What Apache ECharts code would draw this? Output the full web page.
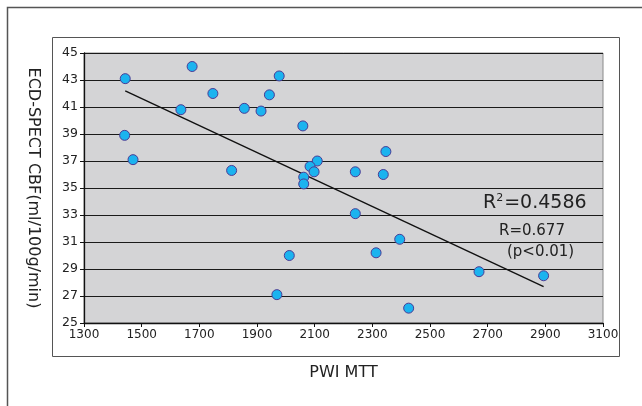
<!DOCTYPE html>
<html>
<head>
<meta charset="utf-8">
<script src="https://cdn.jsdelivr.net/npm/echarts@6/dist/echarts.min.js"></script>
<style>
html,body{margin:0;padding:0;background:#fff;}
#c{width:642px;height:406px;}
</style>
</head>
<body>
<div id="c"></div>
<script>
// Data
const pwiMTT = [1443, 1675, 1977, 1747, 1943, 1636, 1856, 1914, 2059, 1441, 1470, 1812, 2109, 2084, 2098, 2062, 2062, 2241, 2347, 2338, 2241, 2012, 1969, 2313, 2395, 2670, 2894, 2426];
const cbf    = [43.1, 44.0, 43.3, 42.0, 41.9, 40.8, 40.9, 40.7, 39.6, 38.9, 37.1, 36.3, 37.0, 36.6, 36.2, 35.8, 35.3, 36.2, 37.7, 36.0, 33.1, 30.0, 27.1, 30.2, 31.2, 28.8, 28.5, 26.1];
const trendX = [1443, 2894];
const trendY = [42.2, 27.7];
const xTicks = [1300, 1500, 1700, 1900, 2100, 2300, 2500, 2700, 2900, 3100];
const yTicks = [25, 27, 29, 31, 33, 35, 37, 39, 41, 43, 45];
const xName = 'PWI MTT';
const yName = 'ECD-SPECT CBF(ml/100g/min)';
const annR2 = '0.4586';
const annR = 'R=0.677';
const annP = '(p<0.01)';

const points = pwiMTT.map((x, i) => [x, cbf[i]]);
const trend = trendX.map((x, i) => [x, trendY[i]]);

const chart = echarts.init(document.getElementById('c'), null, {renderer: 'canvas'});
const font = 'DejaVu Sans';
chart.setOption({
  animation: false,
  backgroundColor: '#fff',
  grid: {left: 84, top: 53, width: 519, height: 270, show: true, backgroundColor: '#d4d4d6', borderColor: '#8a8a8a', borderWidth: 1},
  xAxis: {
    type: 'value', min: xTicks[0], max: xTicks[xTicks.length - 1], interval: 200,
    name: xName, nameLocation: 'middle', nameGap: 42,
    nameTextStyle: {fontFamily: font, fontSize: 16, color: '#222'},
    axisLine: {show: true, onZero: false, lineStyle: {color: '#111', width: 1.3}},
    axisTick: {show: true, length: 4, lineStyle: {color: '#111'}},
    axisLabel: {fontFamily: font, fontSize: 12, color: '#222', margin: 6, formatter: v => String(v)},
    splitLine: {show: false}
  },
  yAxis: {
    type: 'value', min: yTicks[0], max: yTicks[yTicks.length - 1], interval: 2,
    name: yName, nameLocation: 'middle', nameGap: 43, nameRotate: -90,
    nameTextStyle: {fontFamily: font, fontSize: 16, color: '#222'},
    axisLine: {show: true, onZero: false, lineStyle: {color: '#111', width: 1.3}},
    axisTick: {show: true, length: 4, lineStyle: {color: '#111'}},
    axisLabel: {fontFamily: font, fontSize: 12.5, color: '#222', margin: 6, formatter: v => String(v)},
    splitLine: {show: true, lineStyle: {color: '#1a1a1a', width: 1.2}}
  },
  series: [
    {
      type: 'line', data: trend, showSymbol: false, symbol: 'none',
      lineStyle: {color: '#111', width: 1.4}, z: 2
    },
    {
      type: 'scatter', data: points, symbol: 'circle', symbolSize: 10,
      itemStyle: {color: '#1bb3ef', borderColor: '#4a3c96', borderWidth: 1, opacity: 1}, z: 3
    }
  ],
  graphic: [
    {type: 'rect', shape: {x: 7.5, y: 7.5, width: 660, height: 420}, style: {fill: 'none', stroke: '#555', lineWidth: 1.5}, z: -10, silent: true},
    {type: 'rect', shape: {x: 52.5, y: 37.5, width: 567, height: 319}, style: {fill: 'none', stroke: '#555', lineWidth: 1}, z: -10, silent: true},
    {type: 'text', x: 483, y: 203, style: {
      text: '{a|R}{s|2}{a|=' + annR2 + '}',
      textVerticalAlign: 'middle',
      rich: {a: {fontFamily: font, fontSize: 19, fill: '#222', color: '#222'}, s: {fontFamily: font, fontSize: 11, fill: '#222', color: '#222', padding: [0, 1, 10, 0]}}
    }, z: 10},
    {type: 'text', x: 499, y: 231, style: {text: annR, fontFamily: font, fontSize: 15, fill: '#222', textVerticalAlign: 'middle'}, z: 10},
    {type: 'text', x: 507, y: 252, style: {text: annP, fontFamily: font, fontSize: 15, fill: '#222', textVerticalAlign: 'middle'}, z: 10}
  ]
});
</script>
</body>
</html>
